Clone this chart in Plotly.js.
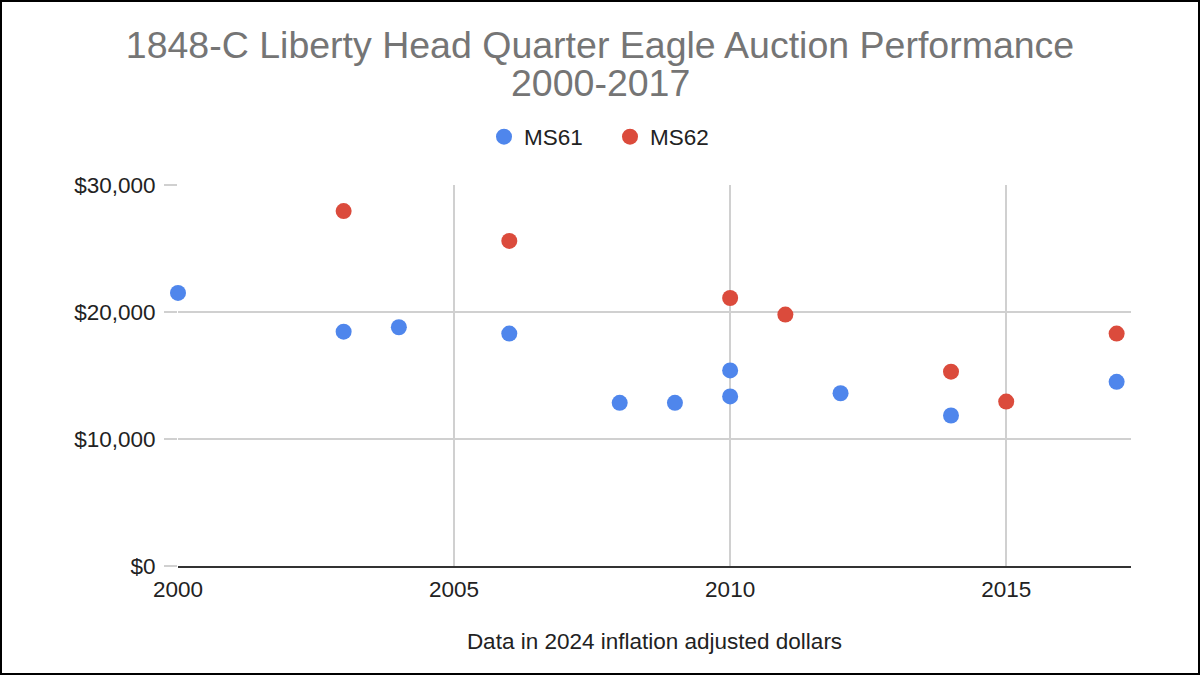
<!DOCTYPE html>
<html>
<head>
<meta charset="utf-8">
<script src="https://cdn.plot.ly/plotly-3.0.1.min.js"></script>
<style>
  html, body { margin: 0; padding: 0; background: #fff; }
  #chart { width: 1200px; height: 675px; }
  #frame { position: absolute; left: 0; top: 0; width: 1200px; height: 675px; box-sizing: border-box; border: 2px solid #000; pointer-events: none; }
</style>
</head>
<body>
<div id="chart"></div>
<div id="frame"></div>
<script>
const titleLine1 = "1848-C Liberty Head Quarter Eagle Auction Performance";
const titleLine2 = "2000-2017";
const xAxisTitle = "Data in 2024 inflation adjusted dollars";

const ms61Years = [2000, 2003, 2004, 2006, 2008, 2009, 2010, 2010, 2012, 2014, 2017];
const ms61Values = [21500, 18450, 18800, 18300, 12850, 12850, 15400, 13350, 13600, 11850, 14500];

const ms62Years = [2003, 2006, 2010, 2011, 2014, 2015, 2017];
const ms62Values = [27950, 25600, 21100, 19800, 15300, 12950, 18300];

const yTickVals = [0, 10000, 20000, 30000];
const yTickText = ["$0", "$10,000", "$20,000", "$30,000"];
const xTickVals = [2000, 2005, 2010, 2015];

const font = "'Liberation Sans', Arial, sans-serif";
const small = 22.5;

const traces = [
  { type: "scatter", mode: "markers", name: "MS61", x: ms61Years, y: ms61Values,
    marker: { color: "#4f86ec", size: 16 }, cliponaxis: false },
  { type: "scatter", mode: "markers", name: "MS62", x: ms62Years, y: ms62Values,
    marker: { color: "#db4b3c", size: 16 }, cliponaxis: false }
];

const layout = {
  width: 1200, height: 675,
  paper_bgcolor: "#fff", plot_bgcolor: "#fff",
  margin: { l: 178, r: 69, t: 185, b: 109 },
  font: { family: font, color: "#222" },
  title: { text: titleLine1, font: { family: font, size: 37.5, color: "#757575" },
           x: 0.5, xref: "container", xanchor: "center",
           y: 1 - 45 / 675, yref: "container", yanchor: "middle" },
  annotations: [
    { text: titleLine2, xref: "paper", yref: "paper", showarrow: false,
      x: 0, y: 0, xanchor: "center", yanchor: "middle",
      font: { family: font, size: 37.5, color: "#757575" } }
  ],
  showlegend: true,
  legend: { orientation: "h", xref: "container", yref: "container",
            x: 0.5 + 10 / 1200, xanchor: "center", y: 1 - 137 / 675, yanchor: "middle",
            font: { family: font, size: small, color: "#222" }, itemwidth: 30,
            entrywidth: 81, entrywidthmode: "pixels", tracegroupgap: 0 },
  xaxis: {
    range: [2000, 2017.26], tickvals: xTickVals, ticktext: xTickVals.map(String),
    showgrid: true, gridcolor: "#d0d0d0", gridwidth: 1.5, zeroline: false,
    showline: true, linecolor: "#333", linewidth: 2,
    ticks: "", ticklabelstandoff: 2, tickfont: { family: font, size: small, color: "#222" },
    title: { text: xAxisTitle, font: { family: font, size: small, color: "#222" }, standoff: 32 },
    fixedrange: true
  },
  yaxis: {
    range: [0, 30000], tickvals: yTickVals, ticktext: yTickText,
    showgrid: true, gridcolor: "#d0d0d0", gridwidth: 1.5, zeroline: false,
    showline: false, ticks: "outside", ticklen: 13, tickcolor: "#d0d0d0", tickwidth: 1.5,
    ticklabelstandoff: 4,
    tickfont: { family: font, size: small, color: "#222" },
    fixedrange: true
  }
};

// place the second title line at its container position (converted to paper coords)
const plotW = 1200 - layout.margin.l - layout.margin.r;
const plotH = 675 - layout.margin.t - layout.margin.b;
layout.annotations[0].x = (600 - layout.margin.l) / plotW;
layout.annotations[0].y = (675 - layout.margin.b - 83) / plotH;

Plotly.newPlot("chart", traces, layout, { displayModeBar: false, staticPlot: true });
</script>
</body>
</html>
